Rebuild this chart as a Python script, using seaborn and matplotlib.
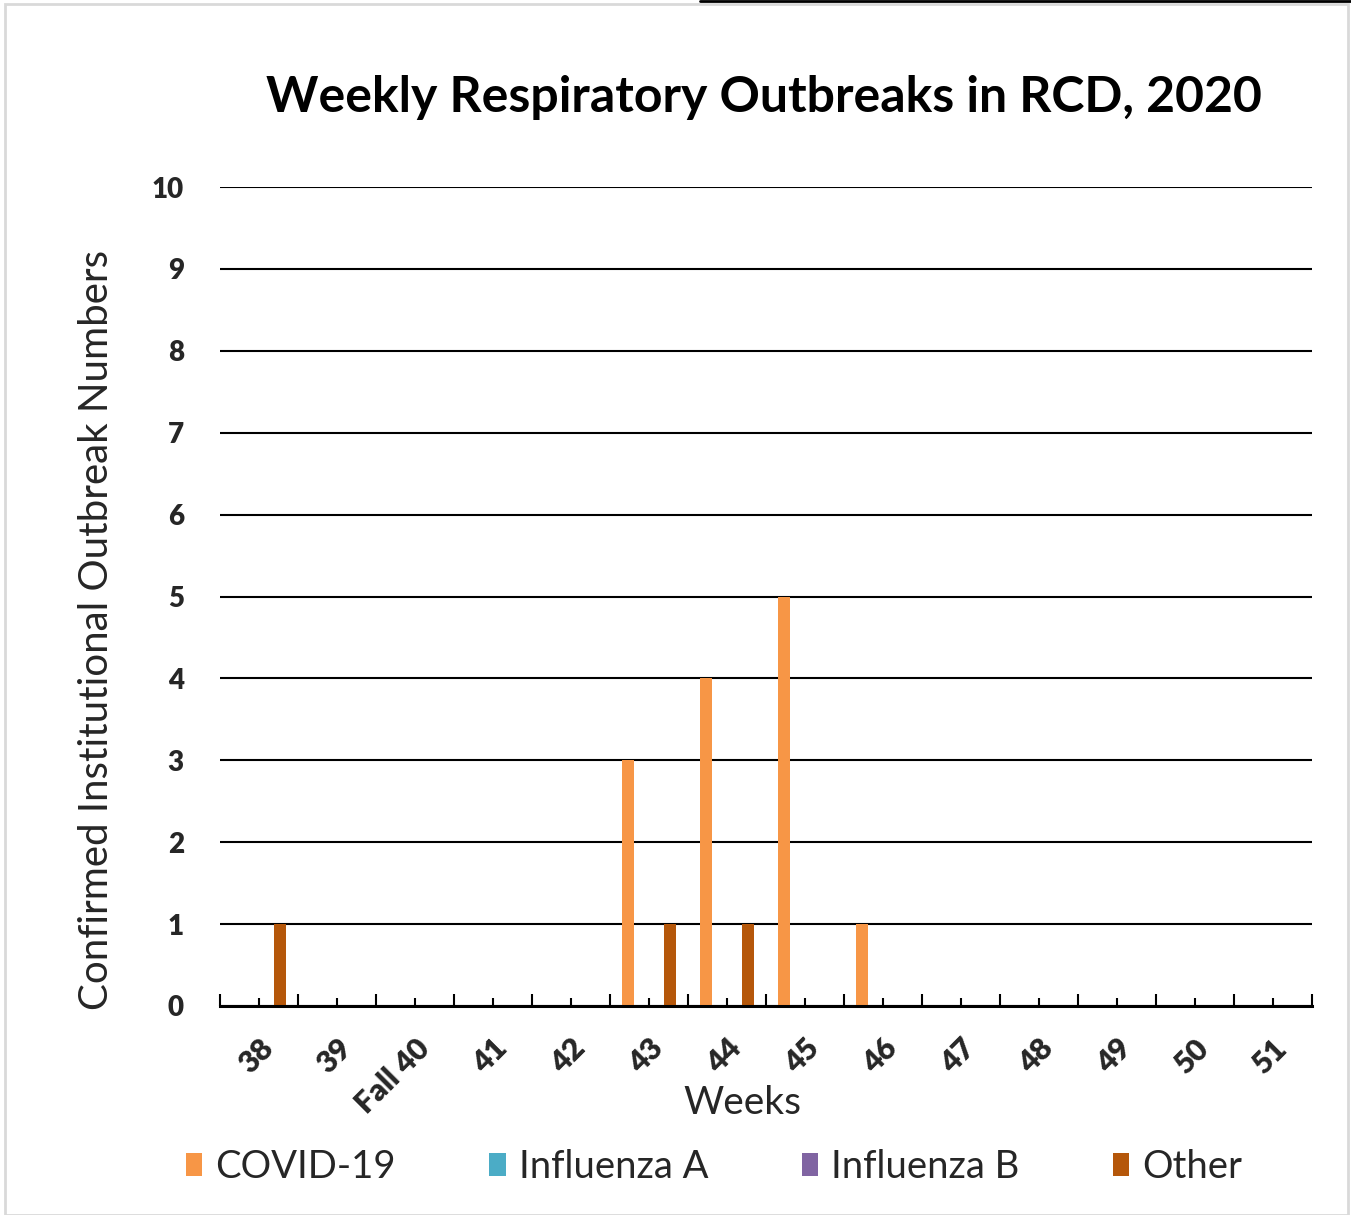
import pandas as pd
import matplotlib.pyplot as plt
import seaborn as sns
from matplotlib.patches import Patch, Rectangle
from matplotlib.lines import Line2D

# --- chart data ---
weeks = ['38', '39', 'Fall 40', '41', '42', '43', '44', '45', '46', '47', '48', '49', '50', '51']
covid = [0, 0, 0, 0, 0, 3, 4, 5, 1, 0, 0, 0, 0, 0]
flu_a = [0, 0, 0, 0, 0, 0, 0, 0, 0, 0, 0, 0, 0, 0]
flu_b = [0, 0, 0, 0, 0, 0, 0, 0, 0, 0, 0, 0, 0, 0]
other = [1, 0, 0, 0, 0, 1, 1, 0, 0, 0, 0, 0, 0, 0]
series = ['COVID-19', 'Influenza A', 'Influenza B', 'Other']
colors = ['#F79646', '#4BACC6', '#8064A2', '#B5570A']

sns.set_style('white')
plt.rcParams['font.family'] = ['Lato', 'DejaVu Sans']

frames = []
for name, vals in zip(series, [covid, flu_a, flu_b, other]):
    frames.append(pd.DataFrame({'Week': weeks, 'Series': name, 'Count': vals}))
df = pd.concat(frames, ignore_index=True)
df['Week'] = df['Week'].astype(str)

fig = plt.figure(figsize=(13.51, 12.15), dpi=100)
ax = fig.add_axes([220 / 1351, 1 - 1006 / 1215, (1312 - 220) / 1351, (1006 - 187) / 1215])

palette = dict(zip(series, colors))
sns.barplot(data=df, x='Week', y='Count', hue='Series', order=weeks, hue_order=series,
            palette=palette, width=0.72, gap=0.2, linewidth=0, saturation=1,
            legend=False, ax=ax)

ax.set_ylim(0, 10)
ax.set_xlim(-0.5, len(weeks) - 0.5)
ax.set_yticks(range(0, 11))
ax.set_yticklabels([str(i) for i in range(0, 11)], fontsize=20, fontweight='heavy')
ax.tick_params(axis='y', length=0, pad=26)
ax.yaxis.grid(True, color='black', linewidth=1.5)
ax.set_axisbelow(True)

# x ticks: short ticks at centres with labels, longer ticks at category boundaries
ax.set_xticks(range(len(weeks)))
ax.set_xticklabels(weeks, fontsize=22, fontweight='heavy', rotation=45,
                   ha='right', rotation_mode='anchor')
ax.set_xticks([i - 0.5 for i in range(len(weeks) + 1)], minor=True)
ax.tick_params(axis='x', which='major', direction='in', length=6, width=1.5,
               color='black', pad=20, bottom=True)
ax.tick_params(axis='x', which='minor', direction='in', length=9, width=1.5,
               color='black', bottom=True)

for s in ['top', 'right', 'left']:
    ax.spines[s].set_visible(False)
ax.spines['bottom'].set_color('black')
ax.spines['bottom'].set_linewidth(2.2)
ax.set_xlabel('')
ax.set_ylabel('')

fig.text(764 / 1351, 1 - 98 / 1215, 'Weekly Respiratory Outbreaks in RCD, 2020',
         ha='center', va='center', fontsize=36, fontweight='bold', color='black')
fig.text(742 / 1351, 1 - 1103 / 1215, 'Weeks', ha='center', va='center', fontsize=28)
fig.text(97 / 1351, 1 - 630 / 1215, 'Confirmed Institutional Outbreak Numbers',
         ha='center', va='center', rotation=90, fontsize=29)

handles = [Patch(facecolor=c, edgecolor='none') for c in colors]
fig.legend(handles, series, loc='center left', bbox_to_anchor=(186 / 1351, 1 - 1167 / 1215),
           ncol=4, frameon=False, fontsize=27.5, handlelength=0.42, handleheight=0.58,
           handletextpad=0.35, columnspacing=2.45, borderaxespad=0, borderpad=0)

# light frame of the chart area and top edge line
fig.add_artist(Rectangle((5 / 1351, 0), 1343 / 1351, 1 - 4 / 1215, transform=fig.transFigure,
                         fill=False, edgecolor='#D9D9D9', linewidth=2))
fig.add_artist(Line2D([700 / 1351, 1], [1 - 1 / 1215, 1 - 1 / 1215], transform=fig.transFigure,
                      color='black', linewidth=2))

fig.savefig('out.png', dpi=100)
